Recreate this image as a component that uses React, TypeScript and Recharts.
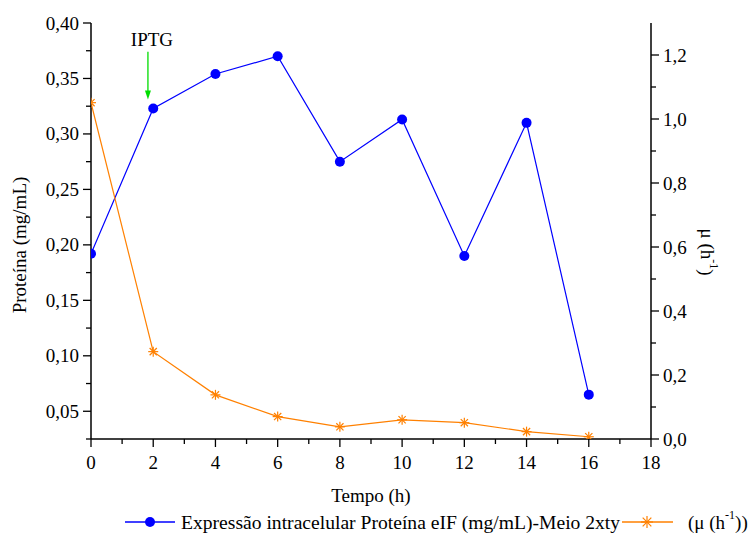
import React from 'react';
import { ComposedChart, Line, XAxis, YAxis, Legend, ReferenceLine } from 'recharts';

// Tempo (h) e medições
const tempo = [0, 2, 4, 6, 8, 10, 12, 14, 16];
const proteina = [0.192, 0.323, 0.354, 0.37, 0.275, 0.313, 0.19, 0.31, 0.065];
const mu = [1.051, 0.273, 0.138, 0.07, 0.038, 0.06, 0.051, 0.023, 0.007];

const xMajor = [0, 2, 4, 6, 8, 10, 12, 14, 16, 18];
const xMinor = [1, 3, 5, 7, 9, 11, 13, 15, 17];
const leftMajor = [0.05, 0.1, 0.15, 0.2, 0.25, 0.3, 0.35, 0.4];
const leftMinor = [0.025, 0.075, 0.125, 0.175, 0.225, 0.275, 0.325, 0.375];
const rightMajor = [0, 0.2, 0.4, 0.6, 0.8, 1.0, 1.2];
const rightMinor = [0.1, 0.3, 0.5, 0.7, 0.9, 1.1];

// IPTG annotation (in data units)
const iptgTime = 1.83;
const iptgFrom = 0.374;
const iptgTo = 0.331;

const FONT = '"Liberation Serif", "Times New Roman", serif';
const FS = 19;
const BLUE = '#0000FF';
const ORANGE = '#FF8000';

const data = tempo.map((t, i) => ({ tempo: t, proteina: proteina[i], mu: mu[i] }));
const allTicks = (a: number[], b: number[]) => [...a, ...b].sort((p, q) => p - q);

const comma = (v: number, d: number) => v.toFixed(d).replace('.', ',');

const LeftTick = (props: any) => {
  const { x, y, payload } = props;
  const major = leftMajor.includes(payload.value);
  return (
    <g>
      <line x1={x} y1={y} x2={x - (major ? 8 : 5)} y2={y} stroke="#000" strokeWidth={1.3} />
      {major && (
        <text x={x - 12} y={y} textAnchor="end" dominantBaseline="central" fontFamily={FONT} fontSize={FS} fill="#000">
          {comma(payload.value, 2)}
        </text>
      )}
    </g>
  );
};

const RightTick = (props: any) => {
  const { x, y, payload } = props;
  const major = rightMajor.includes(payload.value);
  return (
    <g>
      <line x1={x} y1={y} x2={x + (major ? 8 : 5)} y2={y} stroke="#000" strokeWidth={1.3} />
      {major && (
        <text x={x + 12} y={y} textAnchor="start" dominantBaseline="central" fontFamily={FONT} fontSize={FS} fill="#000">
          {comma(payload.value, 1)}
        </text>
      )}
    </g>
  );
};

const BottomTick = (props: any) => {
  const { x, y, payload } = props;
  const major = xMajor.includes(payload.value);
  return (
    <g>
      <line x1={x} y1={y} x2={x} y2={y + (major ? 8 : 5)} stroke="#000" strokeWidth={1.3} />
      {major && (
        <text x={x} y={y + 23} textAnchor="middle" dominantBaseline="central" fontFamily={FONT} fontSize={FS} fill="#000">
          {payload.value}
        </text>
      )}
    </g>
  );
};

const TopTick = (props: any) => {
  const { x, y, payload } = props;
  const major = xMajor.includes(payload.value);
  return <line x1={x} y1={y} x2={x} y2={y + (major ? 5 : 3)} stroke="#000" strokeWidth={1.3} />;
};

const Star = ({ cx, cy, color, r = 5 }: any) => {
  const d = r * 0.72;
  return (
    <g stroke={color} strokeWidth={1.2}>
      <line x1={cx - r} y1={cy} x2={cx + r} y2={cy} />
      <line x1={cx} y1={cy - r} x2={cx} y2={cy + r} />
      <line x1={cx - d} y1={cy - d} x2={cx + d} y2={cy + d} />
      <line x1={cx - d} y1={cy + d} x2={cx + d} y2={cy - d} />
    </g>
  );
};

const renderStar = (p: any) => <Star key={`s-${p.index}`} cx={p.cx} cy={p.cy} color={ORANGE} />;

const MuAxisLabel = (props: any) => {
  const vb = props.viewBox;
  const cx = vb.x + 56;
  const cy = vb.y + vb.height / 2 + 21;
  return (
    <text x={cx} y={cy} transform={`rotate(90, ${cx}, ${cy})`} textAnchor="middle" dominantBaseline="central"
      fontFamily={FONT} fontSize={FS} fill="#000">
      {'μ (h'}
      <tspan dy={-7} fontSize={12}>-1</tspan>
      <tspan dy={7}>)</tspan>
    </text>
  );
};

const IptgArrow = (props: any) => {
  const { x1, y1, x2, y2 } = props;
  return (
    <g>
      <line x1={x1} y1={y1} x2={x2} y2={y2 - 6} stroke="#00DD00" strokeWidth={1.3} />
      <polygon points={`${x2},${y2} ${x2 - 3},${y2 - 9} ${x2 + 3},${y2 - 9}`} fill="#00DD00" />
      <text x={x1 + 4} y={y1 - 12} textAnchor="middle" dominantBaseline="central" fontFamily={FONT} fontSize={FS} fill="#000">
        IPTG
      </text>
    </g>
  );
};

const renderLegend = (props: any) => {
  const items = props.payload || [];
  const prot = items.find((it: any) => it.dataKey === 'proteina');
  const m = items.find((it: any) => it.dataKey === 'mu');
  const cy = 17;
  return (
    <svg width={748} height={30} style={{ display: 'block' }}>
      {prot && (
        <g>
          <line x1={125} y1={cy} x2={175} y2={cy} stroke={prot.color} strokeWidth={1.3} />
          <circle cx={150} cy={cy} r={5} fill={prot.color} />
          <text x={181} y={cy} dominantBaseline="central" fontFamily={FONT} fontSize={19.6} fill="#000">{prot.value}</text>
        </g>
      )}
      {m && (
        <g>
          <line x1={622} y1={cy} x2={673} y2={cy} stroke={m.color} strokeWidth={1.3} />
          <Star cx={647} cy={cy} color={m.color} r={6} />
          <text x={688} y={cy} dominantBaseline="central" fontFamily={FONT} fontSize={FS} fill="#000">
            {'(μ (h'}
            <tspan dy={-7} fontSize={12}>-1</tspan>
            <tspan dy={7}>))</tspan>
          </text>
        </g>
      )}
    </svg>
  );
};

export default function App() {
  return (
    <div style={{ position: 'absolute', left: 0, top: 0, width: 748, height: 535, background: '#fff' }}>
      <ComposedChart width={748} height={535} data={data} margin={{ top: 23, right: 0, bottom: 0, left: 0 }}>
        <XAxis
          dataKey="tempo"
          type="number"
          domain={[0, 18]}
          allowDataOverflow
          ticks={allTicks(xMajor, xMinor)}
          interval={0}
          tickSize={0}
          tickMargin={0}
          tickLine={false}
          tick={<BottomTick />}
          axisLine={{ stroke: '#000', strokeWidth: 1.5 }}
          height={66}
          label={{ value: 'Tempo (h)', position: 'center', dy: 23, fontFamily: FONT, fontSize: FS, fill: '#000' }}
        />
        <XAxis
          xAxisId="top"
          orientation="top"
          dataKey="tempo"
          type="number"
          domain={[0, 18]}
          allowDataOverflow
          ticks={allTicks(xMajor, xMinor)}
          interval={0}
          tickSize={0}
          tickMargin={0}
          tickLine={false}
          tick={<TopTick />}
          axisLine={{ stroke: '#000', strokeWidth: 1.5 }}
          height={0}
        />
        <YAxis
          yAxisId="left"
          type="number"
          domain={[0.025, 0.4]}
          allowDataOverflow
          ticks={allTicks(leftMajor, leftMinor)}
          interval={0}
          tickSize={0}
          tickMargin={0}
          tickLine={false}
          tick={<LeftTick />}
          axisLine={{ stroke: '#000', strokeWidth: 1.5 }}
          width={91}
          label={{ value: 'Proteína (mg/mL)', angle: -90, position: 'center', dx: -26, dy: 14, fontFamily: FONT, fontSize: FS, fill: '#000' }}
        />
        <YAxis
          yAxisId="right"
          orientation="right"
          type="number"
          domain={[0, 1.3]}
          allowDataOverflow
          ticks={allTicks(rightMajor, rightMinor)}
          interval={0}
          tickSize={0}
          tickMargin={0}
          tickLine={false}
          tick={<RightTick />}
          axisLine={{ stroke: '#000', strokeWidth: 1.5 }}
          width={97}
          label={MuAxisLabel}
        />
        <Legend verticalAlign="bottom" wrapperStyle={{ height: 30 }} content={renderLegend} />
        <ReferenceLine
          yAxisId="left"
          segment={[{ x: iptgTime, y: iptgFrom }, { x: iptgTime, y: iptgTo }]}
          shape={IptgArrow}
        />
        <Line
          yAxisId="left"
          type="linear"
          dataKey="proteina"
          name="Expressão intracelular Proteína eIF (mg/mL)-Meio 2xty"
          stroke={BLUE}
          strokeWidth={1.2}
          dot={{ r: 5, fill: BLUE, stroke: BLUE, strokeWidth: 0 }}
          activeDot={false}
          isAnimationActive={false}
        />
        <Line
          yAxisId="right"
          type="linear"
          dataKey="mu"
          name="(μ (h-1))"
          stroke={ORANGE}
          strokeWidth={1.2}
          dot={renderStar}
          activeDot={false}
          isAnimationActive={false}
        />
      </ComposedChart>
    </div>
  );
}
